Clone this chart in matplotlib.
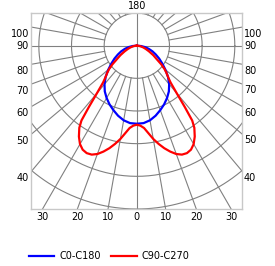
import numpy as np
import matplotlib
matplotlib.use("Agg")
import matplotlib.pyplot as plt

# angles in degrees from nadir (0 = down), radius in ring units
blue_ang = [0, 5, 10, 15, 20, 25, 30, 35, 40, 45, 50, 55, 60, 65, 70, 75, 80, 85, 90]
blue_r = [2.39, 2.38, 2.32, 2.22, 2.10, 1.98, 1.85, 1.71, 1.54, 1.35, 1.14, 0.95, 0.79,
          0.64, 0.51, 0.38, 0.26, 0.13, 0.0]

red_ang = [0, 2.5, 5, 7.5, 10, 12.5, 15, 17.5, 20, 22.5, 25, 27.5, 30, 32.5, 35, 36.5, 38,
           40, 42.5, 45, 47.5, 50, 52.5, 55, 60, 65, 70, 75, 80, 85, 90]
red_r = [2.42, 2.45, 2.53, 2.70, 2.90, 3.08, 3.25, 3.40, 3.53, 3.61, 3.63, 3.59, 3.48,
         3.30, 3.07, 2.85, 2.39, 1.90, 1.53, 1.35, 1.23, 1.10, 0.95, 0.78, 0.58, 0.41,
         0.29, 0.20, 0.12, 0.06, 0.0]

side_labels = [100, 90, 80, 70, 60, 50, 40]
bottom_labels = [30, 20, 10, 0, 10, 20, 30]
bottom_angles = [-30, -20, -10, 0, 10, 20, 30]
rings = [1, 2, 3, 4, 5]

XL, XR, YB, YT = -3.24, 3.22, -5.0, 1.0
grid_c = "#808080"


def to_xy(ang, r):
    a = np.radians(np.asarray(ang, dtype=float))
    r = np.asarray(r, dtype=float)
    return r * np.sin(a), -r * np.cos(a)


def mirror(ang, r):
    ang = np.asarray(ang, dtype=float)
    r = np.asarray(r, dtype=float)
    return np.concatenate([-ang[::-1], ang[1:]]), np.concatenate([r[::-1], r[1:]])


fig = plt.figure(figsize=(2.75, 2.66), dpi=100)
ax = fig.add_axes([31 / 275, 57 / 266, 211 / 275, 196 / 266])
ax.set_xlim(XL, XR)
ax.set_ylim(YB, YT)
ax.set_aspect("equal")
ax.set_xticks([])
ax.set_yticks([])
for sp in ax.spines.values():
    sp.set_color("#c8c8c8")
    sp.set_linewidth(1)

# grid circles
t = np.linspace(0, 2 * np.pi, 400)
for rr in rings:
    ax.plot(rr * np.cos(t), rr * np.sin(t), color=grid_c, lw=0.8, zorder=1)

# radial lines every 10 deg
for a in range(0, 360, 10):
    r0 = 0 if a % 90 == 0 else 1
    xs, ys = to_xy([a, a], [r0, 8])
    ax.plot(xs, ys, color=grid_c, lw=0.8, zorder=1)

# curves
ba, br = mirror(blue_ang, blue_r)
ra, rr_ = mirror(red_ang, red_r)
bx, by = to_xy(ba, br)
rx, ry = to_xy(ra, rr_)
l1, = ax.plot(bx, by, color="#0000ff", lw=1.6, zorder=3, solid_joinstyle="round")
l2, = ax.plot(rx, ry, color="#ff0000", lw=1.6, zorder=4, solid_joinstyle="round")

fs = 7
# side labels: where the angle line meets the frame, nudged down a little
for lab in side_labels:
    a = np.radians(lab)
    off = 0 if lab == 90 else -0.2
    yl = (XL / np.tan(a) if lab != 90 else 0.0) + off
    yr = (-XR / np.tan(a) if lab != 90 else 0.0) + off
    ax.text(XL - 0.06, yl, str(lab), ha="right", va="center", fontsize=fs, clip_on=False)
    ax.text(XR + 0.06, yr, str(lab), ha="left", va="center", fontsize=fs, clip_on=False)

# bottom labels
for lab, a in zip(bottom_labels, bottom_angles):
    x = -YB * np.tan(np.radians(a))
    ax.text(x, YB - 0.08, str(lab), ha="center", va="top", fontsize=fs, clip_on=False)

ax.text(0, YT + 0.05, "180", ha="center", va="bottom", fontsize=fs, clip_on=False)

fig.legend([l1, l2], ["C0-C180", "C90-C270"], loc="center left",
           bbox_to_anchor=(29 / 275, 10 / 266), ncol=2, frameon=False, fontsize=fs,
           handlelength=2.6, handletextpad=0.5, columnspacing=1.1,
           borderpad=0, borderaxespad=0)

fig.savefig("out.png", dpi=100)
